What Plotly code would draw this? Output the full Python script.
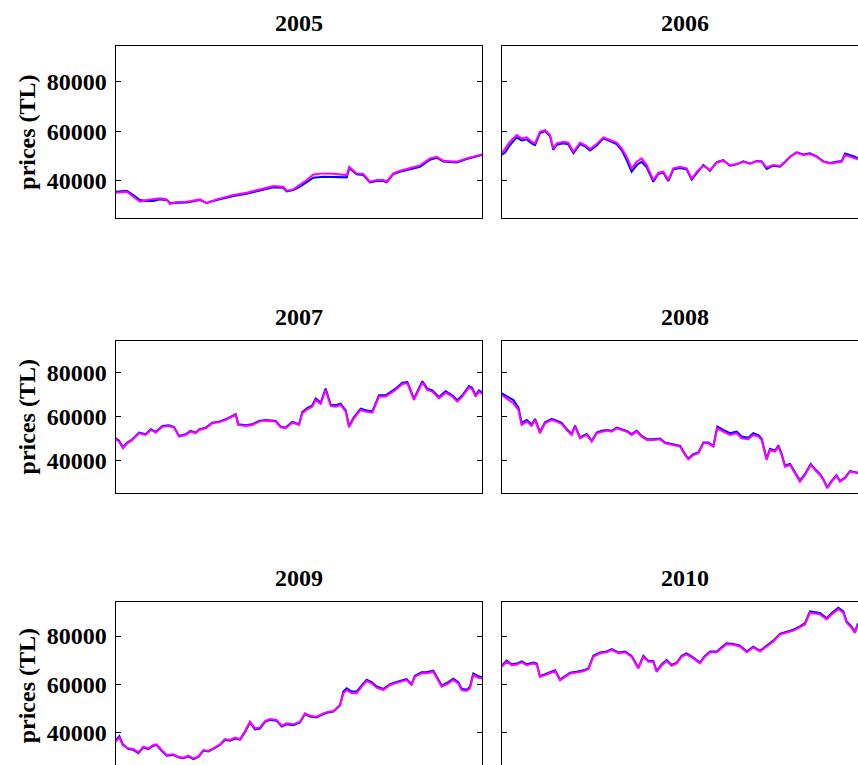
import plotly.graph_objects as go

# ---- data: trading-day positions and prices (TL) per year ----
YEARS = ["2005", "2006", "2007", "2008", "2009", "2010"]
Y_TICKS = [40000, 60000, 80000]

DAYS_2005 = [0, 7.6, 12.1, 16.7, 21.3, 25.9, 30.5, 35.1, 37.3, 41.9, 48.8, 58.0, 62.5, 69.4, 76.3, 80.9,
             90.0, 99.2, 108.4, 115.2, 117.5, 122.1, 126.7, 131.3, 135.9, 142.7, 149.6, 158.8, 160.6,
             165.6, 170.2, 174.8, 179.4, 184.0, 186.3, 190.8, 195.4, 202.3, 209.2, 216.0, 220.6, 225.2,
             234.4, 241.2, 245.8, 252.0]
MAGENTA_2005 = [35150, 35550, 33530, 31510, 32180, 32450, 32860, 32450, 30560, 31370, 31510, 32450, 30970,
                32450, 33530, 34200, 35150, 36490, 37840, 37570, 35950, 36490, 38240, 40260, 42550, 42960,
                42820, 42280, 45650, 42960, 42690, 39590, 40260, 40260, 39590, 42960, 44030, 44980, 46190,
                49020, 49690, 48080, 47670, 49020, 49690, 50640]
BLUE_2005 = [35550, 35950, 34200, 32180, 31780, 31780, 32450, 32180, 30970, 31110, 31240, 32180, 30970,
             32180, 33260, 33800, 34740, 35950, 37300, 37160, 35680, 36220, 37570, 39450, 41210, 41620,
             41620, 41350, 45110, 42550, 42280, 39320, 39860, 39860, 39320, 42690, 43630, 44570, 45650,
             48480, 49290, 47800, 47400, 48750, 49420, 50500]

DAYS_2006 = [0, 2.3, 5.7, 10.3, 13.7, 17.2, 20.6, 22.9, 26.3, 29.8, 33.2, 35.5, 37.8, 42.4, 45.8, 49.3,
             53.8, 57.3, 60.7, 65.3, 69.9, 74.5, 79.0, 82.5, 85.9, 89.3, 92.8, 96.2, 99.7, 104.2, 107.7,
             111.1, 114.5, 118.0, 122.6, 127.1, 130.6, 135.2, 138.6, 143.2, 147.8, 152.3, 156.9, 161.5,
             166.1, 170.7, 175.3, 178.7, 182.1, 186.7, 191.3, 194.7, 198.2, 202.7, 207.3, 211.9, 216.5,
             221.1, 225.7, 230.2, 233.7, 236.0, 239.4, 242.8, 244.9]
MAGENTA_2006 = [51040, 53060, 55750, 58450, 57100, 57500, 55750, 55080, 59800, 60470, 58450, 53060, 55080,
                55750, 55350, 51710, 55350, 54410, 52790, 54810, 57500, 56430, 55350, 53060, 49690, 44980,
                47670, 49020, 46330, 40260, 43230, 43630, 40260, 44980, 45650, 44980, 40940, 44300, 46060,
                44300, 47270, 48080, 46330, 46730, 47670, 47000, 47810, 47670, 45380, 46330, 45920, 47670,
                49690, 51310, 50370, 50770, 49690, 47670, 47000, 47400, 47670, 50370, 49690, 49020, 48620]
BLUE_2006 = [50500, 51400, 54400, 57500, 56300, 56700, 55080, 54410, 59260, 60070, 58030, 52520, 54540,
             55080, 54680, 51170, 54810, 53870, 52250, 54270, 57100, 55890, 54810, 52250, 48350, 43630,
             46330, 47670, 45380, 39590, 42820, 43230, 39860, 44570, 45110, 44570, 40400, 43900, 46330,
             44030, 47540, 48350, 46060, 46600, 47810, 46870, 47940, 47810, 44710, 46060, 45650, 47540,
             49690, 51440, 50640, 51040, 49820, 47810, 47130, 47670, 47940, 51040, 50500, 49690, 49020]

DAYS_2007 = [0, 2.3, 5.0, 8.0, 11.5, 16.0, 20.6, 24.1, 27.5, 32.1, 36.7, 40.1, 43.5, 48.1, 51.5, 55.0,
             57.3, 61.9, 66.4, 71.0, 75.6, 80.2, 82.5, 84.3, 89.3, 93.9, 98.5, 103.1, 110.0, 113.4, 116.8,
             121.4, 126.0, 128.3, 131.7, 135.2, 137.5, 140.9, 144.3, 147.8, 151.2, 154.6, 158.1, 160.4,
             163.8, 168.4, 171.8, 176.4, 181.0, 185.6, 189.0, 192.4, 197.0, 200.5, 205.0, 208.5, 210.8,
             214.2, 217.6, 222.2, 226.8, 231.4, 234.8, 238.3, 242.8, 245.1, 247.4, 249.7, 252.0]
MAGENTA_2007 = [49550, 48490, 45460, 47730, 49250, 52280, 51520, 53790, 52580, 55300, 55610, 54850, 50760,
                51520, 53030, 52280, 53790, 54550, 56820, 57270, 58340, 59850, 60610, 56060, 55610, 56060,
                57580, 58030, 57580, 55000, 54550, 57120, 56060, 61370, 63180, 64400, 67430, 65610, 71970,
                64700, 64400, 65150, 62120, 55000, 59090, 62880, 62120, 61670, 68940, 68940, 70450, 71970,
                74700, 75000, 67430, 71970, 75300, 71970, 71210, 68180, 70760, 68940, 66670, 68940, 73180,
                72270, 68940, 71210, 70150]
BLUE_2007 = [50000, 48940, 45910, 48030, 49550, 52580, 51820, 54090, 52880, 55600, 55910, 55150, 51060,
             51820, 53330, 52580, 54090, 54850, 57120, 57570, 58640, 60150, 60910, 56360, 55910, 56360,
             57880, 58330, 57880, 55300, 54850, 57420, 56360, 61970, 63780, 65000, 68030, 66210, 72570,
             65300, 65000, 65750, 62720, 55600, 59690, 63480, 62720, 62270, 69540, 69540, 71050, 72570,
             75300, 75600, 68030, 72570, 75900, 72570, 71810, 68780, 71360, 69540, 67270, 69540, 73780,
             72870, 69540, 71810, 70750]

DAYS_2008 = [0, 3.4, 8.0, 11.5, 13.7, 17.2, 20.6, 22.9, 26.3, 29.8, 34.4, 37.8, 41.2, 44.7, 48.1, 50.4,
             53.8, 58.4, 61.9, 65.3, 68.7, 72.2, 75.6, 79.0, 82.5, 85.9, 89.3, 92.8, 96.2, 99.7, 104.2,
             108.8, 112.3, 116.8, 122.6, 126.0, 128.3, 131.7, 135.2, 138.6, 142.0, 145.5, 148.2, 152.3,
             156.9, 161.5, 164.9, 169.5, 172.9, 176.4, 178.7, 182.1, 184.4, 187.9, 190.2, 192.4, 194.7,
             198.2, 201.6, 205.0, 208.5, 212.4, 215.4, 218.8, 221.1, 223.8, 226.8, 230.2, 232.5, 236.0,
             239.4, 244.9]
MAGENTA_2008 = [69700, 68180, 65910, 62880, 56060, 57580, 55610, 58340, 52280, 56820, 58340, 57580, 56520,
                53790, 51520, 55300, 50000, 51520, 48490, 52280, 53030, 53490, 53030, 54550, 53790, 53030,
                51520, 53030, 50760, 49250, 49250, 49550, 47730, 46970, 46220, 42430, 40460, 42430, 43190,
                47730, 47730, 46220, 54550, 53030, 51520, 52280, 50000, 49550, 51520, 50760, 49250, 40150,
                44700, 43940, 46220, 42430, 37120, 37880, 34100, 30310, 33340, 37880, 35610, 33340, 31070,
                27280, 30310, 32880, 30310, 31820, 34850, 34100]
BLUE_2008 = [70450, 69300, 67400, 64000, 57000, 58300, 56300, 58800, 52900, 57300, 58800, 58000, 57000,
             54200, 52000, 55700, 50400, 51900, 48900, 52600, 53400, 53800, 53400, 54900, 54100, 53400,
             51900, 53400, 51100, 49600, 49600, 49900, 48100, 47300, 46600, 42800, 40800, 42800, 43600,
             48100, 48100, 46600, 55300, 53800, 52300, 53000, 50800, 50300, 52300, 51500, 49800, 40600,
             45200, 44400, 46700, 42900, 37600, 38300, 34500, 30800, 33800, 38300, 36000, 33700, 31400,
             27600, 30600, 33200, 30600, 32100, 35100, 34300]

DAYS_2009 = [0, 2.5, 4.8, 8.7, 12.1, 15.6, 19.0, 22.5, 25.9, 28.2, 31.6, 35.1, 39.6, 43.1, 46.5, 49.9,
             53.4, 56.8, 60.3, 63.7, 67.1, 71.7, 75.1, 78.6, 82.0, 85.5, 88.9, 92.3, 95.8, 99.2, 102.6,
             106.1, 110.7, 114.1, 117.5, 122.1, 126.7, 130.1, 133.6, 138.1, 142.7, 146.2, 149.6, 154.2,
             156.5, 158.8, 162.2, 165.6, 169.1, 172.5, 175.9, 179.4, 184.0, 188.5, 194.3, 200.0, 203.4,
             205.7, 210.3, 213.7, 218.3, 221.8, 224.1, 228.6, 232.1, 235.5, 237.8, 241.2, 243.5, 245.8,
             249.2, 252.0]
MAGENTA_2009 = [36290, 37940, 34910, 33530, 33250, 31870, 34220, 33530, 34910, 35180, 32840, 30770, 31050,
                30080, 29670, 30490, 29390, 30220, 32840, 32430, 33530, 35180, 37390, 36980, 37940, 37390,
                40700, 44560, 41800, 42080, 44840, 45660, 45250, 42900, 43870, 43460, 44560, 48010, 47040,
                46630, 48010, 48700, 48970, 51450, 56280, 57660, 56280, 56280, 59040, 61380, 60420, 58630,
                57660, 59730, 60830, 61800, 59730, 63180, 64560, 64560, 65250, 61800, 59040, 60420, 61800,
                60420, 57660, 57250, 58350, 63870, 62760, 62490]
BLUE_2009 = [36800, 38600, 35300, 33200, 32900, 31500, 33900, 33200, 34600, 34900, 32500, 30500, 30800,
             29800, 29400, 30200, 29100, 30000, 32600, 32200, 33300, 34900, 37100, 36700, 37600, 37100,
             40300, 44200, 41400, 41700, 44500, 45300, 44900, 42600, 43500, 43100, 44200, 47700, 46700,
             46300, 47700, 48400, 48700, 51300, 57000, 58400, 57000, 57000, 59600, 61900, 60900, 59100,
             58100, 60100, 61200, 62200, 60100, 63600, 65000, 65000, 65700, 62200, 59500, 60900, 62300,
             60900, 58200, 57800, 58900, 64500, 63400, 63000]

DAYS_2010 = [0, 3.4, 6.9, 10.3, 13.7, 17.2, 21.8, 24.1, 26.3, 29.8, 33.2, 36.7, 40.1, 42.4, 47.0, 51.5,
             56.1, 59.6, 63.0, 67.6, 72.2, 75.6, 80.2, 84.8, 89.3, 93.9, 97.4, 100.8, 104.2, 106.5, 110.0,
             113.4, 116.8, 120.3, 123.7, 127.1, 131.7, 136.3, 139.7, 143.2, 147.8, 151.2, 154.6, 159.2,
             163.8, 168.4, 172.9, 177.6, 182.1, 186.7, 191.3, 195.9, 200.5, 205.0, 208.5, 211.9, 215.4,
             218.8, 223.4, 226.8, 231.4, 234.8, 237.1, 240.6, 242.8, 244.9]
MAGENTA_2010 = [67260, 69360, 67960, 68240, 69080, 67960, 68660, 68240, 63060, 63760, 64460, 65440, 61660,
                62640, 64460, 64880, 65440, 66280, 71460, 72860, 73280, 74260, 72860, 73280, 71460, 66560,
                71460, 69360, 69360, 65160, 67960, 69640, 67680, 68660, 71460, 72440, 70760, 68660, 71460,
                73280, 73280, 74960, 76640, 76360, 75660, 73280, 75240, 73560, 75660, 77760, 80560, 81260,
                82240, 83640, 84760, 89660, 89240, 88960, 86860, 88960, 91060, 89660, 85460, 83360, 81260,
                84760]
BLUE_2010 = [67700, 69800, 68300, 68600, 69500, 68300, 69000, 68600, 63400, 64100, 64800, 65800, 62000,
             63000, 64800, 65200, 65800, 66600, 71800, 73200, 73600, 74600, 73200, 73600, 71800, 66900,
             71800, 69700, 69700, 65500, 68300, 70000, 68000, 69000, 71800, 72800, 71100, 69000, 71800,
             73600, 73600, 75300, 77000, 76700, 76000, 73600, 75600, 73900, 76000, 78100, 80900, 81600,
             82600, 84000, 85300, 90200, 89800, 89500, 87300, 89500, 91700, 90200, 86000, 83800, 81700,
             85200]

PANELS = [
    (DAYS_2005, BLUE_2005, MAGENTA_2005),
    (DAYS_2006, BLUE_2006, MAGENTA_2006),
    (DAYS_2007, BLUE_2007, MAGENTA_2007),
    (DAYS_2008, BLUE_2008, MAGENTA_2008),
    (DAYS_2009, BLUE_2009, MAGENTA_2009),
    (DAYS_2010, BLUE_2010, MAGENTA_2010),
]

# ---- layout geometry (paper fractions) ----
W, H = 858, 765
PANEL_W = 366.6
COL_DOMAINS = [(115.7 / W, 482.3 / W), (501.7 / W, 1.0)]
COL_XRANGE = [(0, 252), (0, 244.9)]
ROW_DOMAINS = [(1 - 218.3 / H, 1 - 45.7 / H), (1 - 492.7 / H, 1 - 340.7 / H), (0.0, 1 - 601.7 / H)]
ROW_YRANGE = [(24810, 94545), (25270, 94360), (26640, 94190)]
TITLE_Y = [1 - 23 / H, 1 - 316.7 / H, 1 - 578 / H]

FONT = "Liberation Serif, Times New Roman, serif"
FONT_SIZE = 24

fig = go.Figure()
layout = dict(
    width=W, height=H,
    margin=dict(l=0, r=0, t=0, b=0),
    paper_bgcolor="white", plot_bgcolor="white",
    showlegend=False,
    annotations=[],
)

for i, (days, blue, magenta) in enumerate(PANELS):
    row, col = divmod(i, 2)
    suffix = "" if i == 0 else str(i + 1)
    fig.add_trace(go.Scatter(x=days, y=blue, mode="lines", line=dict(color="#0000FF", width=2.0),
                             xaxis="x" + suffix, yaxis="y" + suffix, hoverinfo="skip"))
    fig.add_trace(go.Scatter(x=days, y=magenta, mode="lines", line=dict(color="#FF00FF", width=2.0),
                             xaxis="x" + suffix, yaxis="y" + suffix, hoverinfo="skip"))

    last_row = row == 2
    layout["xaxis" + suffix] = dict(
        domain=list(COL_DOMAINS[col]), range=list(COL_XRANGE[col]), anchor="y" + suffix,
        showgrid=False, zeroline=False, showticklabels=False, ticks="",
        showline=True, linecolor="black", linewidth=1.2,
        mirror=False if last_row else True,
        side="top" if last_row else "bottom",
        fixedrange=True,
    )
    layout["yaxis" + suffix] = dict(
        domain=list(ROW_DOMAINS[row]), range=list(ROW_YRANGE[row]), anchor="x" + suffix,
        showgrid=False, zeroline=False,
        tickvals=Y_TICKS, ticktext=[str(v) for v in Y_TICKS],
        ticks="inside", ticklen=5, tickwidth=1, tickcolor="black",
        showticklabels=(col == 0),
        tickfont=dict(family=FONT, size=FONT_SIZE, color="black", weight="bold"),
        ticklabelstandoff=3,
        showline=True, linecolor="black", linewidth=1.2,
        mirror="ticks" if col == 0 else False,
        fixedrange=True,
    )
    cx = COL_DOMAINS[col][0] + PANEL_W / W / 2
    layout["annotations"].append(dict(
        text="<b>" + YEARS[i] + "</b>", xref="paper", yref="paper", x=cx, y=TITLE_Y[row],
        xanchor="center", yanchor="middle", showarrow=False,
        font=dict(family=FONT, size=FONT_SIZE, color="black"),
    ))

for row in range(3):
    lo, hi = ROW_DOMAINS[row]
    if row == 2:
        lo = 1 - 769.5 / H
    layout["annotations"].append(dict(
        text="<b>prices (TL)</b>", xref="paper", yref="paper", x=26.7 / W, y=(lo + hi) / 2,
        xanchor="center", yanchor="middle", textangle=-90, showarrow=False,
        font=dict(family=FONT, size=FONT_SIZE, color="black"),
    ))

fig.update_layout(**layout)
fig.write_html("out.html")
